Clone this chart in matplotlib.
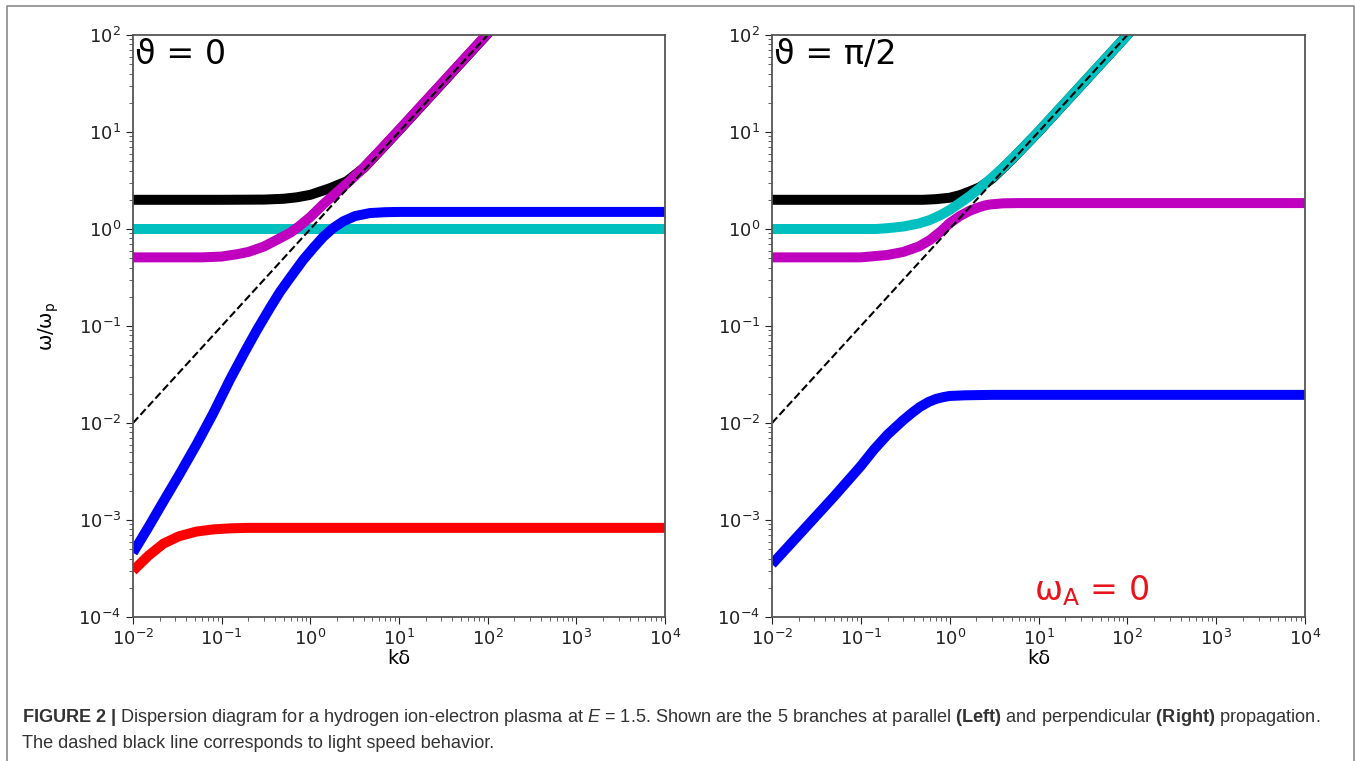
import numpy as np
import matplotlib
matplotlib.use("Agg")
from matplotlib import pyplot as plt
from matplotlib.lines import Line2D

# --- data (k delta, omega / omega_p) ---

# left panel, theta = 0
k_par_black = [0.01, 0.1, 0.3, 0.5, 0.7, 1.0, 1.66, 2.57, 4.0, 6.0, 10.0, 100.0, 1e4]
par_black = [2.0, 2.0, 2.01, 2.05, 2.12, 2.25, 2.63, 3.1, 4.25, 6.3, 10.4, 103.0, 1.03e4]

k_par_cyan = [0.01, 1e4]
par_cyan = [1.0, 1.0]

k_par_blue = [0.01, 0.015, 0.022, 0.033, 0.052, 0.08, 0.124, 0.18, 0.25, 0.35,
              0.455, 0.6, 0.83, 1.1, 1.4, 1.8, 2.35, 3.2, 4.7, 7.0, 10.0, 1e4]
par_blue = [4.6e-4, 8.5e-4, 1.55e-3, 2.9e-3, 6.0e-3, 1.25e-2, 2.8e-2, 5.3e-2,
            9.1e-2, 0.153, 0.225, 0.32, 0.48, 0.65, 0.83, 1.02, 1.2, 1.36,
            1.46, 1.49, 1.5, 1.5]

k_par_magenta = [0.01, 0.06, 0.1, 0.15, 0.2, 0.3, 0.45, 0.6, 0.75, 1.0, 1.4,
                 2.0, 2.8, 4.0, 6.0, 10.0, 100.0, 1e4]
par_magenta = [0.51, 0.51, 0.52, 0.55, 0.58, 0.66, 0.80, 0.92, 1.07, 1.33, 1.8,
               2.4, 3.15, 4.3, 6.35, 10.5, 104.0, 1.04e4]

k_par_red = [0.01, 0.015, 0.022, 0.033, 0.052, 0.08, 0.124, 0.2, 1e4]
par_red = [3.0e-4, 4.3e-4, 5.7e-4, 6.8e-4, 7.6e-4, 8.0e-4, 8.2e-4, 8.3e-4, 8.3e-4]

# right panel, theta = pi/2
k_perp_black = [0.01, 0.5, 0.7, 1.0, 1.3, 1.7, 2.2, 3.0, 5.0, 10.0, 100.0, 1e4]
perp_black = [2.0, 2.0, 2.03, 2.1, 2.23, 2.45, 2.7, 3.3, 5.2, 10.05, 100.0, 1e4]

k_perp_cyan = [0.01, 0.15, 0.2, 0.3, 0.45, 0.6, 0.8, 1.0, 1.3, 1.7, 2.2, 2.85,
               4.0, 6.0, 10.0, 100.0, 1e4]
perp_cyan = [1.0, 1.0, 1.02, 1.06, 1.14, 1.24, 1.4, 1.57, 1.85, 2.2, 2.65, 3.25,
             4.3, 6.2, 10.1, 100.0, 1e4]

k_perp_magenta = [0.01, 0.1, 0.2, 0.3, 0.45, 0.6, 0.8, 1.0, 1.3, 1.7, 2.2, 2.5,
                  2.85, 4.0, 6.0, 1e4]
perp_magenta = [0.51, 0.51, 0.54, 0.58, 0.66, 0.77, 0.95, 1.15, 1.36, 1.55,
                1.69, 1.75, 1.79, 1.84, 1.85, 1.85]

k_perp_blue = [0.01, 0.02, 0.05, 0.1, 0.14, 0.2, 0.3, 0.38, 0.46, 0.58, 0.7,
               0.85, 1.0, 1.5, 3.0, 1e4]
perp_blue = [3.5e-4, 7e-4, 1.75e-3, 3.6e-3, 5.3e-3, 7.6e-3, 1.07e-2, 1.28e-2,
             1.46e-2, 1.65e-2, 1.77e-2, 1.85e-2, 1.9e-2, 1.93e-2, 1.95e-2, 1.95e-2]

# light line
k_light = [1e-2, 1e2]
w_light = [1e-2, 1e2]

xticks = [1e-2, 1e-1, 1e0, 1e1, 1e2, 1e3, 1e4]
yticks = [1e-4, 1e-3, 1e-2, 1e-1, 1e0, 1e1, 1e2]

W, H = 1356, 761
fig = plt.figure(figsize=(W / 100, H / 100), dpi=100)

LW = 7.2


def setup(ax):
    ax.set_xscale('log')
    ax.set_yscale('log')
    ax.set_xlim(1e-2, 1e4)
    ax.set_ylim(1e-4, 1e2)
    ax.set_xticks(xticks)
    ax.set_yticks(yticks)
    ax.tick_params(which='major', length=5, labelsize=13, colors='#222222')
    ax.tick_params(which='minor', length=3, colors='#444444')
    for s in ax.spines.values():
        s.set_color('#555555')
        s.set_linewidth(1.3)
    ax.set_xlabel('kδ', fontsize=14)
    ax.xaxis.set_label_coords(0.5, -0.055)


axL = fig.add_axes([133 / W, 1 - 617 / H, 532 / W, 582 / H])
axR = fig.add_axes([772 / W, 1 - 617 / H, 533 / W, 582 / H])

axL.plot(k_par_black, par_black, color='k', lw=LW, solid_capstyle='butt')
axL.plot(k_par_cyan, par_cyan, color='c', lw=LW, solid_capstyle='butt')
axL.plot(k_par_blue, par_blue, color='b', lw=LW, solid_capstyle='butt')
axL.plot(k_par_red, par_red, color='r', lw=LW, solid_capstyle='butt')
axL.plot(k_par_magenta, par_magenta, color='m', lw=LW, solid_capstyle='butt')
axL.plot(k_light, w_light, color='k', lw=1.5, ls='--')
setup(axL)
axL.set_ylabel('ω/ω$_\\mathrm{p}$', fontsize=14)
axL.yaxis.set_label_coords(-0.135, 0.5)
axL.text(0.004, 0.995, 'ϑ = 0', transform=axL.transAxes, fontsize=24,
         ha='left', va='top')

axR.plot(k_perp_black, perp_black, color='k', lw=LW, solid_capstyle='butt')
axR.plot(k_perp_magenta, perp_magenta, color='m', lw=LW, solid_capstyle='butt')
axR.plot(k_perp_blue, perp_blue, color='b', lw=LW, solid_capstyle='butt')
axR.plot(k_perp_cyan, perp_cyan, color='c', lw=LW, solid_capstyle='butt')
axR.plot(k_light, w_light, color='k', lw=1.5, ls='--')
setup(axR)
axR.text(0.004, 0.995, 'ϑ = π/2', transform=axR.transAxes, fontsize=24,
         ha='left', va='top')
axR.text(0.60, 0.045, 'ω$_\\mathrm{A}$ = 0', transform=axR.transAxes,
         fontsize=24, color='#e8141c', ha='center', va='center')

# outer frame (open at the bottom)
fx = [7 / W, 7 / W, 1354 / W, 1354 / W]
fy = [0.0, 1 - 6 / H, 1 - 6 / H, 0.0]
fig.add_artist(Line2D(fx, fy, transform=fig.transFigure, color='#8a8a8a', lw=1.2))

# caption
plt.rcParams['mathtext.rm'] = 'Liberation Sans'
plt.rcParams['mathtext.it'] = 'Liberation Sans:italic'
plt.rcParams['mathtext.bf'] = 'Liberation Sans:bold'
cap1 = (r'$\mathbf{FIGURE\ 2\ |}$ Dispersion diagram for a hydrogen ion-electron '
        r'plasma at $\mathit{E}$ = 1.5. Shown are the 5 branches at parallel '
        r'$\mathbf{(Left)}$ and perpendicular $\mathbf{(Right)}$ propagation.')
cap2 = 'The dashed black line corresponds to light speed behavior.'
fig.text(22 / W, 1 - 717 / H, cap1, fontsize=13.1, family='Liberation Sans',
         math_fontfamily='custom', color='#333333', va='center', ha='left')
fig.text(22 / W, 1 - 743 / H, cap2, fontsize=13.1, family='Liberation Sans',
         color='#333333', va='center', ha='left')

fig.savefig('out.png', dpi=100)
